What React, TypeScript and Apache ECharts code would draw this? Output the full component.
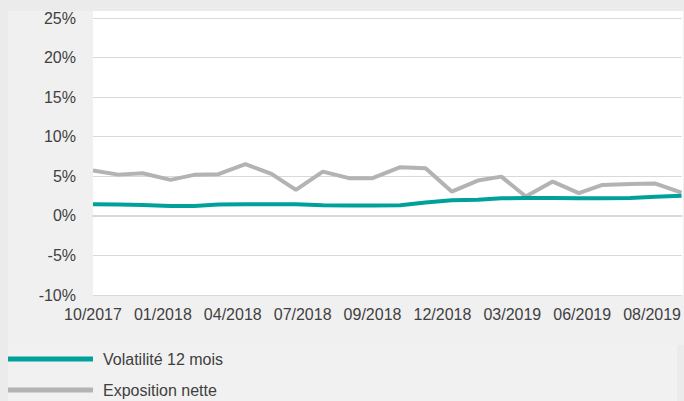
import React, { useEffect, useRef } from "react";
import * as echarts from "echarts";

const dates = [
  "2017-10-31", "2017-11-30", "2017-12-29", "2018-01-31", "2018-02-28", "2018-03-29",
  "2018-04-30", "2018-05-31", "2018-06-29", "2018-07-31", "2018-08-31", "2018-09-28",
  "2018-10-31", "2018-11-30", "2018-12-31", "2019-01-31", "2019-02-28", "2019-03-29",
  "2019-04-30", "2019-05-31", "2019-06-28", "2019-07-31", "2019-08-30", "2019-09-30",
];

const volatilite = [
  1.48, 1.45, 1.38, 1.26, 1.26, 1.45, 1.48, 1.48, 1.48, 1.35, 1.3, 1.3,
  1.35, 1.68, 1.98, 2.02, 2.22, 2.27, 2.25, 2.23, 2.23, 2.25, 2.4, 2.55,
];

const exposition = [
  5.72, 5.21, 5.39, 4.55, 5.18, 5.27, 6.53, 5.3, 3.28, 5.59, 4.76, 4.76,
  6.15, 6.02, 3.07, 4.46, 4.96, 2.44, 4.33, 2.87, 3.91, 4.04, 4.08, 2.94,
];

const seriesNames = ["Volatilité 12 mois", "Exposition nette"];
const seriesColors = ["#00a19b", "#b3b3b3"];
const labelStepDays = 83;

const DAY = 86400000;
const toMs = (s: string) => {
  const [y, m, d] = s.split("-").map(Number);
  return Date.UTC(y, m - 1, d);
};
const startMs = toMs(dates[0]);
const dayOffset = (s: string) => Math.round((toMs(s) - startMs) / DAY);
const fmtMonth = (days: number) => {
  const dt = new Date(startMs + days * DAY);
  const mm = String(dt.getUTCMonth() + 1).padStart(2, "0");
  return `${mm}/${dt.getUTCFullYear()}`;
};

export default function App() {
  const ref = useRef<HTMLDivElement>(null);
  useEffect(() => {
    if (!ref.current) return;
    const chart = echarts.init(ref.current, null, { renderer: "svg" });
    const font = "'Liberation Sans', Arial, sans-serif";
    const mk = (vals: number[]) => dates.map((d, i) => [dayOffset(d), vals[i]]);
    chart.setOption({
      animation: false,
      backgroundColor: "#ebebeb",
      textStyle: { fontFamily: font },
      graphic: [
        { type: "rect", z: -10, shape: { x: 8, y: 11, width: 676, height: 334 }, style: { fill: "#f0f0f0" } },
        { type: "rect", z: -10, shape: { x: 8, y: 345, width: 669, height: 56 }, style: { fill: "#f1f1f1" } },
        { type: "rect", z: -9, shape: { x: 93, y: 11, width: 590, height: 284 }, style: { fill: "#ffffff" } },
      ],
      grid: { left: 93, right: 1, top: 18, height: 277, containLabel: false },
      legend: {
        orient: "vertical",
        left: 8,
        top: 350,
        height: 120,
        padding: 0,
        icon: "rect",
        itemWidth: 85,
        itemHeight: 5,
        itemGap: 13,
        data: seriesNames,
        textStyle: { fontFamily: font, fontSize: 16, color: "#404040", lineHeight: 18, padding: [0, 0, 0, 5] },
      },
      xAxis: {
        type: "value",
        min: 0,
        max: dayOffset(dates[dates.length - 1]),
        interval: labelStepDays,
        axisLine: { show: true, lineStyle: { color: "#d9d9d9", width: 2 } },
        axisTick: { show: false },
        splitLine: { show: false },
        axisLabel: {
          showMaxLabel: false,
          margin: 11,
          fontSize: 16,
          color: "#404040",
          fontFamily: font,
          formatter: (v: number) => fmtMonth(v),
        },
      },
      yAxis: {
        type: "value",
        min: -10,
        max: 25,
        interval: 5,
        axisLine: { show: false },
        axisTick: { show: false },
        splitLine: { lineStyle: { color: "#d9d9d9", width: 1 } },
        axisLabel: { margin: 17, fontSize: 16, color: "#404040", fontFamily: font, formatter: "{value}%" },
      },
      series: [
        {
          name: seriesNames[1],
          type: "line",
          data: mk(exposition),
          symbol: "none",
          color: seriesColors[1],
          lineStyle: { width: 4, color: seriesColors[1] },
          z: 2,
        },
        {
          name: seriesNames[0],
          type: "line",
          data: mk(volatilite),
          symbol: "none",
          color: seriesColors[0],
          lineStyle: { width: 4, color: seriesColors[0] },
          z: 3,
        },
      ],
    });
    return () => chart.dispose();
  }, []);
  return (
    <div
      ref={ref}
      style={{ position: "fixed", left: 0, top: 0, width: 684, height: 401 }}
    />
  );
}
